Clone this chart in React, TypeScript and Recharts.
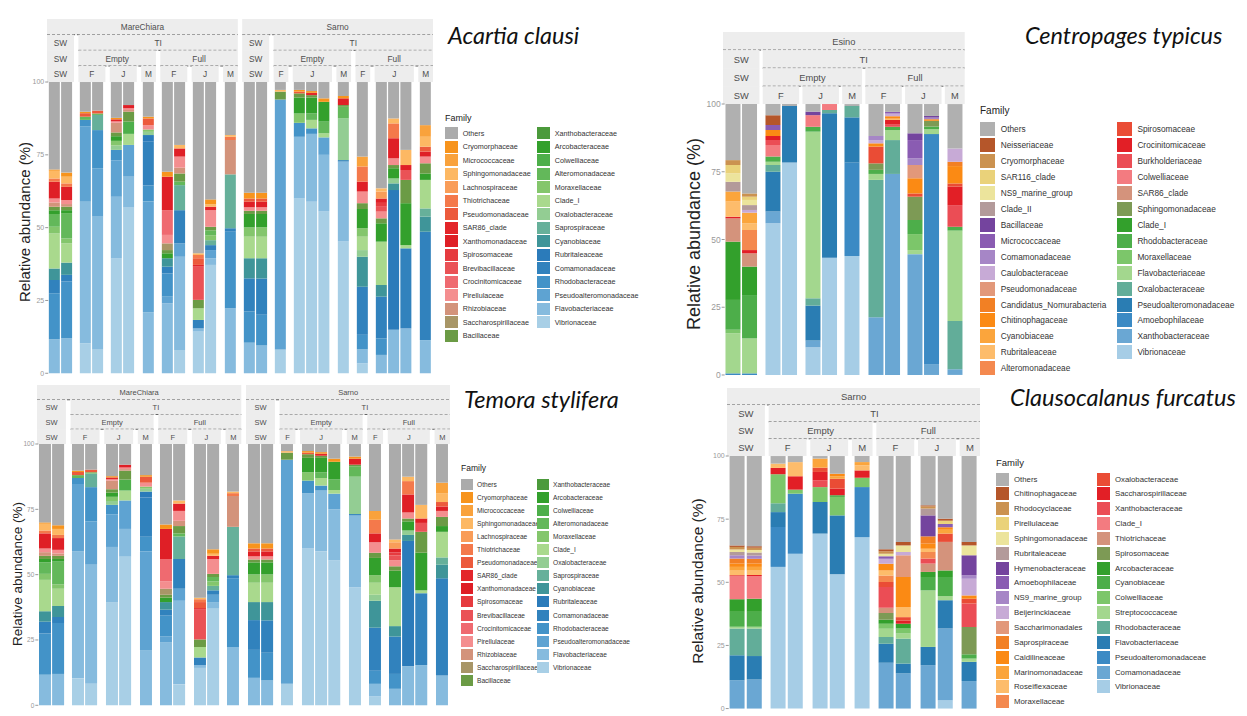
import React from 'react';
import { BarChart, Bar, XAxis, YAxis } from 'recharts';

// [family index, relative abundance %], listed bottom-up; "Others" is the remainder to 100
type Seg = [number, number];

const FONT = '"Liberation Sans", Arial, sans-serif';
const yTicks = [0, 25, 50, 75, 100];

// ---- families / palettes ----
const familiesA = [
  'Others', 'Cryomorphaceae', 'Micrococcaceae', 'Sphingomonadaceae', 'Lachnospiraceae', 'Thiotrichaceae',
  'Pseudomonadaceae', 'SAR86_clade', 'Xanthomonadaceae', 'Spirosomaceae', 'Brevibacillaceae', 'Crocinitomicaceae',
  'Pirellulaceae', 'Rhizobiaceae', 'Saccharospirillaceae', 'Bacillaceae', 'Xanthobacteraceae', 'Arcobacteraceae',
  'Colwelliaceae', 'Alteromonadaceae', 'Moraxellaceae', 'Clade_I', 'Oxalobacteraceae', 'Saprospiraceae',
  'Cyanobiaceae', 'Rubritaleaceae', 'Comamonadaceae', 'Rhodobacteraceae', 'Pseudoalteromonadaceae',
  'Flavobacteriaceae', 'Vibrionaceae',
];
const coloursA = [
  '#ababab', '#f7941d', '#f9a23c', '#fdb863', '#f99d59', '#f4794b', '#ec5a3c', '#e3262a', '#df1f26', '#e63b3f',
  '#ea5256', '#ef6a70', '#f48e8f', '#d3937b', '#a89667', '#6b9b45', '#4b9a3b', '#33a02c', '#4daf4a', '#63b85a',
  '#84c66c', '#a9d98d', '#93cd93', '#66b09a', '#3f9599', '#2b7bba', '#3182bd', '#4393c8', '#5ea3d2', '#86bbde',
  '#a8cfe6',
];
const familiesC = [
  'Others', 'Neisseriaceae', 'Cryomorphaceae', 'SAR116_clade', 'NS9_marine_group', 'Clade_II', 'Bacillaceae',
  'Micrococcaceae', 'Comamonadaceae', 'Caulobacteraceae', 'Pseudomonadaceae', 'Candidatus_Nomurabacteria',
  'Chitinophagaceae', 'Cyanobiaceae', 'Rubritaleaceae', 'Alteromonadaceae', 'Spirosomaceae', 'Crocinitomicaceae',
  'Burkholderiaceae', 'Colwelliaceae', 'SAR86_clade', 'Sphingomonadaceae', 'Clade_I', 'Rhodobacteraceae',
  'Moraxellaceae', 'Flavobacteriaceae', 'Oxalobacteraceae', 'Pseudoalteromonadaceae', 'Amoebophilaceae',
  'Xanthobacteraceae', 'Vibrionaceae',
];
const familiesF = [
  'Others', 'Chitinophagaceae', 'Rhodocyclaceae', 'Pirellulaceae', 'Sphingomonadaceae', 'Rubritaleaceae',
  'Hymenobacteraceae', 'Amoebophilaceae', 'NS9_marine_group', 'Beijerinckiaceae', 'Saccharimonadales',
  'Saprospiraceae', 'Caldilineaceae', 'Marinomonadaceae', 'Roseiflexaceae', 'Moraxellaceae', 'Oxalobacteraceae',
  'Saccharospirillaceae', 'Xanthobacteraceae', 'Clade_I', 'Thiotrichaceae', 'Spirosomaceae', 'Arcobacteraceae',
  'Cyanobiaceae', 'Colwelliaceae', 'Streptococcaceae', 'Rhodobacteraceae', 'Flavobacteriaceae',
  'Pseudoalteromonadaceae', 'Comamonadaceae', 'Vibrionaceae',
];
const coloursB = [
  '#b0b0b0', '#b5562a', '#cb9250', '#ead27a', '#ece49c', '#b39a9a', '#74449e', '#8a5cb2', '#a686c6', '#c7aad6',
  '#e2987a', '#f28024', '#fb8a14', '#fba53c', '#fdbc6b', '#f4894f', '#ea4c35', '#e21f26', '#eb4d55', '#f37b80',
  '#d4937c', '#7d9a55', '#33a02c', '#4dae4a', '#7cc66a', '#a3d78e', '#62ad99', '#2a7db3', '#3b8ac4', '#6aa7d3',
  '#a6cde6',
];

// ---- facets: site / group / gut / month ----
const facetsA = [
  ['MareChiara', 'SW', 'SW', 'SW'], ['MareChiara', 'TI', 'Empty', 'F'], ['MareChiara', 'TI', 'Empty', 'J'],
  ['MareChiara', 'TI', 'Empty', 'M'], ['MareChiara', 'TI', 'Full', 'F'], ['MareChiara', 'TI', 'Full', 'J'],
  ['MareChiara', 'TI', 'Full', 'M'], ['Sarno', 'SW', 'SW', 'SW'], ['Sarno', 'TI', 'Empty', 'F'],
  ['Sarno', 'TI', 'Empty', 'J'], ['Sarno', 'TI', 'Empty', 'M'], ['Sarno', 'TI', 'Full', 'F'],
  ['Sarno', 'TI', 'Full', 'J'], ['Sarno', 'TI', 'Full', 'M'],
];
const facetsC = [
  ['Esino', 'SW', 'SW', 'SW'], ['Esino', 'TI', 'Empty', 'F'], ['Esino', 'TI', 'Empty', 'J'],
  ['Esino', 'TI', 'Empty', 'M'], ['Esino', 'TI', 'Full', 'F'], ['Esino', 'TI', 'Full', 'J'], ['Esino', 'TI', 'Full', 'M'],
];
const facetsF = [
  ['Sarno', 'SW', 'SW', 'SW'], ['Sarno', 'TI', 'Empty', 'F'], ['Sarno', 'TI', 'Empty', 'J'],
  ['Sarno', 'TI', 'Empty', 'M'], ['Sarno', 'TI', 'Full', 'F'], ['Sarno', 'TI', 'Full', 'J'], ['Sarno', 'TI', 'Full', 'M'],
];

// ---- samples (per facet, per bar) ----
const samplesA: Seg[][][] = [
  [
    [[29, 11.7], [27, 15.8], [26, 4.5], [24, 4], [21, 12], [20, 2.3], [19, 4.4], [17, 1.3], [15, 1.2], [13, 1.4], [12, 1.4], [8, 5.8], [5, 1.1], [3, 2.6], [1, 0.5]],
    [[29, 12], [27, 19.5], [26, 2.3], [24, 4.2], [21, 6.6], [20, 1.7], [19, 8.7], [17, 1], [15, 1.2], [13, 0.9], [12, 1.4], [8, 4.5], [5, 1.2], [3, 2.3], [1, 1.4]],
  ],
  [
    [[30, 10.3], [29, 48.6], [28, 25.8], [27, 2.3], [19, 1.1], [6, 1.2], [1, 0.5]],
    [[30, 8.2], [29, 45.6], [28, 16.6], [27, 13.1], [23, 5.2], [19, 0.5], [6, 1]],
  ],
  [
    [[30, 39.4], [29, 21.2], [28, 12.5], [27, 3.6], [22, 1.5], [20, 1.6], [17, 1.6], [15, 1.3], [13, 3.3], [12, 0.5], [7, 0.7], [1, 0.5]],
    [[30, 56.9], [29, 10.6], [28, 10.9], [21, 3.8], [18, 4.2], [15, 3.4], [13, 0.6], [12, 0.6], [8, 1.1]],
  ],
  [
    [[29, 21], [28, 38], [27, 5.5], [26, 15], [25, 2.3], [22, 1.1], [20, 0.8], [12, 1.5], [6, 2.3], [1, 0.6]],
  ],
  [
    [[29, 24], [28, 2.3], [27, 8], [26, 2.3], [24, 2.9], [17, 1.7], [15, 1.1], [14, 2.3], [12, 2.9], [11, 8.5], [8, 11.5], [1, 1.7]],
    [[30, 8], [29, 32], [28, 4.6], [26, 11.4], [23, 8.6], [19, 1.2], [15, 2.8], [13, 2], [12, 3.8], [8, 2.8], [3, 1.2]],
  ],
  [
    [[30, 14.3], [29, 1.1], [26, 2.9], [21, 4], [15, 2.9], [10, 11.4], [7, 0.6], [6, 2.3], [5, 1.1], [3, 0.6]],
    [[30, 37.2], [29, 2.3], [28, 2.8], [26, 1.7], [23, 1.7], [20, 1.7], [19, 1.7], [15, 1.2], [12, 5.7], [7, 1.2], [3, 0.8], [1, 1.7]],
  ],
  [
    [[29, 22.3], [27, 26.3], [26, 1.2], [23, 18.5], [13, 11.8], [5, 1.1], [3, 0.6]],
  ],
  [
    [[29, 10.5], [27, 10.7], [26, 11.4], [24, 6.9], [21, 7.4], [20, 3.2], [17, 4.6], [15, 1.1], [12, 1.2], [8, 1.9], [6, 1.1], [1, 2]],
    [[29, 9.5], [27, 10.6], [26, 12.4], [24, 7], [21, 7.4], [20, 3.2], [17, 4.6], [15, 1.1], [12, 1.2], [8, 1.9], [6, 1.1], [1, 2]],
  ],
  [
    [[30, 8.2], [28, 85.8], [15, 2.7], [3, 0.6]],
  ],
  [
    [[30, 60], [29, 21.2], [27, 4.8], [20, 3.2], [17, 5.5], [15, 1.4], [6, 0.6], [1, 0.6]],
    [[30, 58.9], [29, 23.3], [27, 1.9], [21, 2.9], [19, 2.2], [17, 5.5], [15, 0.8], [7, 0.8], [1, 0.6]],
    [[30, 55.5], [29, 19.5], [28, 6], [21, 1.4], [19, 4], [17, 6.8], [1, 1.2]],
  ],
  [
    [[30, 45.2], [29, 27.5], [26, 0.5], [22, 14.3], [19, 4], [15, 0.6], [8, 2.3], [1, 0.8]],
  ],
  [
    [[30, 3.4], [29, 4.8], [27, 5], [26, 16.5], [24, 10.3], [22, 2.3], [21, 4.6], [20, 2.9], [17, 6.6], [15, 2], [12, 4], [8, 3.4], [5, 5.2], [2, 3.4]],
  ],
  [
    [[29, 6.3], [27, 5.7], [26, 14.3], [24, 4], [21, 14.9], [17, 6.3], [15, 1.7], [12, 2.3], [10, 1.9], [9, 1.1], [8, 1.5], [4, 2.4], [3, 1.1]],
    [[29, 14.9], [25, 48], [24, 2.3], [22, 1.7], [17, 3.5], [15, 1.1], [12, 2.3], [8, 6.9], [5, 5.1], [3, 1.7]],
    [[29, 15.4], [26, 27.5], [21, 1.1], [17, 14.4], [15, 8], [10, 3.4], [8, 1.7], [3, 5.2]],
  ],
  [
    [[29, 11.4], [26, 37.2], [24, 5.2], [23, 2.8], [21, 9.8], [17, 2.2], [15, 3.5], [12, 2.3], [8, 1.7], [6, 1.7], [3, 3.4], [2, 4]],
  ],
];
// the Temora stylifera panel shows the same bars as Acartia clausi
const samplesT = samplesA;

const samplesC: Seg[][][] = [
  [
    [[28, 0.6], [25, 14.8], [24, 1.3], [23, 11], [22, 21.5], [20, 8.6], [17, 0.6], [14, 5.6], [13, 3.7], [5, 3.6], [4, 3.1], [3, 3.1], [2, 1.8]],
    [[28, 0.6], [25, 12.9], [23, 16], [22, 10.5], [20, 4.9], [17, 1.2], [15, 7.4], [14, 2.5], [13, 3.9], [9, 1], [5, 1.8], [4, 1.9], [3, 1.2], [2, 1.2]],
  ],
  [
    [[30, 56], [29, 4.3], [27, 14.7], [26, 2.5], [25, 1.2], [23, 1.9], [19, 4.3], [18, 1.8], [17, 1.5], [12, 2.2], [7, 1.9], [1, 3.6]],
    [[30, 78.4], [27, 20.9]],
  ],
  [
    [[30, 10.2], [29, 2.5], [27, 12.9], [26, 2.7], [25, 61.5], [23, 1.8], [19, 4.3], [6, 1.3]],
    [[30, 43.3], [27, 53.3], [26, 1.2], [19, 2.2]],
  ],
  [
    [[30, 43.9], [28, 34.5], [27, 16.7], [26, 4.2]],
  ],
  [
    [[29, 21.3], [26, 50.7], [25, 2.2], [23, 1.5], [21, 2.4], [16, 6.2], [12, 1.2], [9, 1.2], [8, 1.5]],
    [[29, 74.2], [26, 12.5], [25, 3.7], [23, 1.2], [18, 1], [17, 1.5], [14, 0.5], [12, 0.9], [9, 1], [7, 0.6]],
  ],
  [
    [[29, 44.6], [25, 1.5], [24, 5.9], [23, 5.2], [21, 8.6], [16, 1.2], [12, 5.6], [10, 4.9], [8, 2.5], [7, 6.7], [6, 2.5]],
    [[29, 3.9], [28, 85], [25, 1.8], [23, 1], [21, 2.1], [12, 0.6], [8, 0.6], [6, 0.6]],
  ],
  [
    [[29, 2.1], [26, 17.8], [25, 33.4], [23, 1.4], [18, 8], [17, 6.8], [16, 1.2], [12, 6.4], [11, 1.6], [9, 4.9]],
  ],
];

const samplesF: Seg[][][] = [
  [
    [[29, 11.2], [27, 9.9], [26, 10.6], [25, 0.7], [23, 5.9], [22, 5], [19, 9.1], [17, 0.4], [14, 1.8], [13, 1.5], [12, 1.3], [11, 2], [8, 1.3], [5, 1.3], [4, 1], [2, 1], [1, 0.6]],
    [[29, 11.5], [27, 9.3], [26, 10.9], [25, 0.7], [23, 5.9], [22, 5.2], [19, 9], [17, 0.4], [14, 1.7], [13, 1.5], [12, 1.3], [11, 1.9], [8, 1.3], [5, 1.2], [4, 1], [2, 0.9], [1, 0.6]],
  ],
  [
    [[30, 56.1], [28, 15.8], [27, 5.9], [26, 3.5], [24, 11.5], [17, 2.5], [14, 1.7]],
    [[30, 61.3], [28, 23.8], [24, 1.6], [17, 5.3], [14, 5.6]],
  ],
  [
    [[30, 69.3], [27, 12.5], [24, 5.9], [18, 2.7], [17, 3.3], [16, 1.7], [13, 3.6]],
    [[30, 53.2], [27, 23.3], [24, 7.3], [23, 0.7], [17, 2.6], [16, 3.9], [13, 1], [12, 1]],
  ],
  [
    [[30, 67.9], [28, 19.8], [24, 3.7], [17, 2.9], [14, 2], [13, 1.3]],
  ],
  [
    [[29, 18.1], [27, 7.6], [26, 2.6], [25, 3.3], [24, 2], [22, 1.6], [21, 2.6], [20, 2.1], [18, 8.2], [16, 2], [15, 2.6], [14, 2], [12, 2.6], [9, 2], [7, 1], [4, 1], [2, 1], [1, 0.8]],
    [[29, 13.9], [27, 3.9], [26, 9.9], [25, 2], [24, 2], [22, 1.9], [17, 1.3], [16, 1.3], [14, 4], [12, 11.9], [10, 8.6], [9, 1.3], [4, 2.6], [1, 1.4]],
  ],
  [
    [[29, 17.2], [27, 7.2], [25, 22.4], [23, 5.3], [22, 2], [20, 3.3], [18, 2], [15, 2.6], [14, 1.3], [12, 2], [11, 2.9], [6, 8.3], [5, 2.7], [2, 0.9], [1, 0.4]],
    [[30, 3.3], [29, 28.4], [27, 11.2], [25, 1.6], [23, 7.6], [22, 2.6], [20, 11.3], [16, 3.3], [13, 1.5], [12, 1], [7, 1.3], [3, 1.3], [1, 0.8]],
  ],
  [
    [[29, 10.9], [27, 7.6], [25, 1.3], [23, 1.7], [21, 10.8], [18, 9.3], [16, 1.9], [12, 1.3], [9, 6.6], [8, 1.4], [6, 7.9], [4, 3.9], [1, 1.4]],
  ],
];

type LegendCfg = { x: number; titleY: number; firstY: number; pitch: number; sw: number; sh: number; col2: number; textDx: number; font: number; titleFont: number };
type PanelCfg = {
  title: string; titleX: number; titleY: number;
  left: number; right: number; gap: number; stripTop: number; plotTop: number; plotBottom: number;
  stripFont: number; tickFont: number; axisW: number; yTitleSize: number; yTitleX: number; yTitleY: number;
  facets: string[][]; samples: Seg[][][]; families: string[]; colours: string[]; legend: LegendCfg;
};

const panels: PanelCfg[] = [
  {
    title: 'Acartia clausi', titleX: 448, titleY: 35,
    left: 46.7, right: 432.7, gap: 4.4, stripTop: 19.3, plotTop: 82, plotBottom: 373.3,
    stripFont: 8.3, tickFont: 7, axisW: 22, yTitleSize: 15, yTitleX: 24, yTitleY: 222,
    facets: facetsA, samples: samplesA, families: familiesA, colours: coloursA,
    legend: { x: 445, titleY: 118.3, firstY: 133.3, pitch: 13.5, sw: 13, sh: 12, col2: 537, textDx: 17.7, font: 7.2, titleFont: 9 },
  },
  {
    title: 'Centropages typicus', titleX: 1025, titleY: 35,
    left: 723.3, right: 965, gap: 3.3, stripTop: 31.7, plotTop: 104, plotBottom: 375,
    stripFont: 9.3, tickFont: 8.5, axisW: 26, yTitleSize: 18, yTitleX: 694, yTitleY: 234,
    facets: facetsC, samples: samplesC, families: familiesC, colours: coloursB,
    legend: { x: 980, titleY: 110, firstY: 129.3, pitch: 15.93, sw: 15, sh: 14, col2: 1116.7, textDx: 20.7, font: 8.3, titleFont: 10 },
  },
  {
    title: 'Temora stylifera', titleX: 464, titleY: 399,
    left: 36.7, right: 450, gap: 4.7, stripTop: 385, plotTop: 444, plotBottom: 705.3,
    stripFont: 7.5, tickFont: 6.5, axisW: 20, yTitleSize: 13.5, yTitleX: 17, yTitleY: 574,
    facets: facetsA, samples: samplesT, families: familiesA, colours: coloursA,
    legend: { x: 461, titleY: 468, firstY: 484, pitch: 13.1, sw: 12, sh: 11, col2: 537, textDx: 16, font: 6.6, titleFont: 8.5 },
  },
  {
    title: 'Clausocalanus furcatus', titleX: 1010, titleY: 397,
    left: 726.7, right: 980, gap: 3.8, stripTop: 388, plotTop: 455.7, plotBottom: 708.3,
    stripFont: 9.5, tickFont: 7, axisW: 22, yTitleSize: 15.5, yTitleX: 698, yTitleY: 581,
    facets: facetsF, samples: samplesF, families: familiesF, colours: coloursB,
    legend: { x: 996, titleY: 461.7, firstY: 479, pitch: 14.85, sw: 13.3, sh: 13, col2: 1097, textDx: 18, font: 7.8, titleFont: 9.5 },
  },
];

function toRows(bars: Seg[][], nFam: number) {
  return bars.map((segs, i) => {
    const row: Record<string, number | string> = { id: `s${i}` };
    for (let k = 0; k < nFam; k++) row[`f${k}`] = 0;
    let sum = 0;
    segs.forEach(([f, v]) => {
      row[`f${f}`] = v;
      sum += v;
    });
    row.f0 = Math.max(0, Math.round((100 - sum) * 100) / 100);
    return row;
  });
}

function Panel({ cfg }: { cfg: PanelCfg }) {
  const counts = cfg.samples.map((f) => f.length);
  const nF = counts.length;
  const nBars = counts.reduce((a, b) => a + b, 0);
  const u = (cfg.right - cfg.left - (nF - 1) * cfg.gap) / (nBars + 0.2 * nF);
  const boxes: { x: number; w: number }[] = [];
  let cx = cfg.left;
  counts.forEach((n) => {
    const w = (n + 0.2) * u;
    boxes.push({ x: cx, w });
    cx += w + cfg.gap;
  });
  const plotH = cfg.plotBottom - cfg.plotTop;
  const rowH = (cfg.plotTop - cfg.stripTop) / 4;

  const cells: { r: number; x0: number; x1: number; label: string; span: number }[] = [];
  for (let r = 0; r < 4; r++) {
    let i = 0;
    while (i < nF) {
      const key = cfg.facets[i].slice(0, r + 1).join('|');
      let j = i;
      while (j + 1 < nF && cfg.facets[j + 1].slice(0, r + 1).join('|') === key) j++;
      cells.push({ r, x0: boxes[i].x, x1: boxes[j].x + boxes[j].w, label: cfg.facets[i][r], span: j - i + 1 });
      i = j + 1;
    }
  }

  const order = cfg.families.map((_, k) => cfg.families.length - 1 - k);
  const lg = cfg.legend;
  const half = Math.ceil(cfg.families.length / 2);
  const pad = 6;

  return (
    <>
      <svg
        style={{ position: 'absolute', left: cfg.left, top: cfg.stripTop }}
        width={cfg.right - cfg.left}
        height={cfg.plotTop - cfg.stripTop}
      >
        {cells.map((c, i) => (
          <g key={i}>
            <rect x={c.x0 - cfg.left} y={c.r * rowH} width={c.x1 - c.x0} height={rowH + 0.5} fill="#ededed" />
            <text
              x={(c.x0 + c.x1) / 2 - cfg.left}
              y={c.r * rowH + rowH / 2 + 0.5}
              textAnchor="middle"
              dominantBaseline="central"
              fontSize={cfg.stripFont}
              fill="#4d4d4d"
              fontFamily={FONT}
            >
              {c.label}
            </text>
            {c.r < 3 && c.span > 1 && (
              <line
                x1={c.x0 - cfg.left}
                x2={c.x1 - cfg.left}
                y1={(c.r + 1) * rowH}
                y2={(c.r + 1) * rowH}
                stroke="#555"
                strokeWidth={0.9}
                strokeDasharray="3 2"
              />
            )}
          </g>
        ))}
      </svg>

      {cfg.samples.map((bars, i) => {
        const first = i === 0;
        const extra = first ? cfg.axisW : 0;
        return (
          <div key={i} style={{ position: 'absolute', left: boxes[i].x - extra, top: cfg.plotTop - pad }}>
            <BarChart
              width={boxes[i].w + extra}
              height={plotH + 2 * pad}
              data={toRows(bars, cfg.families.length)}
              margin={{ top: pad, bottom: pad, left: 0.1 * u, right: 0.1 * u }}
              barCategoryGap="5%"
            >
              <XAxis dataKey="id" hide />
              <YAxis
                hide={!first}
                width={cfg.axisW}
                domain={[0, 100]}
                ticks={yTicks}
                interval={0}
                axisLine={false}
                tickSize={3}
                tickMargin={1}
                tickLine={{ stroke: '#999' }}
                tick={{ fontSize: cfg.tickFont, fill: '#999', fontFamily: FONT }}
              />
              {order.map((k) => (
                <Bar key={k} dataKey={`f${k}`} stackId="s" fill={cfg.colours[k]} isAnimationActive={false} />
              ))}
            </BarChart>
          </div>
        );
      })}

      <div
        style={{
          position: 'absolute',
          left: cfg.yTitleX,
          top: cfg.yTitleY,
          transform: 'translate(-50%, -50%) rotate(-90deg)',
          whiteSpace: 'nowrap',
          fontSize: cfg.yTitleSize,
          color: '#222',
          fontFamily: FONT,
        }}
      >
        Relative abundance (%)
      </div>

      <div
        style={{
          position: 'absolute',
          left: cfg.titleX,
          top: cfg.titleY,
          transform: 'translateY(-50%)',
          fontFamily: 'Lato, "Open Sans", sans-serif',
          fontStyle: 'italic',
          fontSize: 23.5,
          color: '#111',
          whiteSpace: 'nowrap',
        }}
      >
        {cfg.title}
      </div>

      <div
        style={{
          position: 'absolute',
          left: lg.x,
          top: lg.titleY,
          transform: 'translateY(-50%)',
          fontSize: lg.titleFont,
          color: '#222',
          fontFamily: FONT,
        }}
      >
        Family
      </div>
      {cfg.families.map((name, k) => {
        const col = k < half ? 0 : 1;
        const row = col === 0 ? k : k - half;
        const x = col === 0 ? lg.x : lg.col2;
        const y = lg.firstY + row * lg.pitch;
        return (
          <div key={name} style={{ position: 'absolute', left: x, top: y - lg.sh / 2, height: lg.sh, display: 'flex', alignItems: 'center' }}>
            <div style={{ width: lg.sw, height: lg.sh, background: cfg.colours[k] }} />
            <div style={{ marginLeft: lg.textDx - lg.sw, fontSize: lg.font, color: '#333', fontFamily: FONT, whiteSpace: 'nowrap' }}>
              {name}
            </div>
          </div>
        );
      })}
    </>
  );
}

export default function App() {
  return (
    <div style={{ position: 'absolute', left: 0, top: 0, width: 1247, height: 716, background: '#fff', overflow: 'hidden', fontFamily: FONT }}>
      {panels.map((p) => (
        <Panel key={p.title} cfg={p} />
      ))}
    </div>
  );
}
